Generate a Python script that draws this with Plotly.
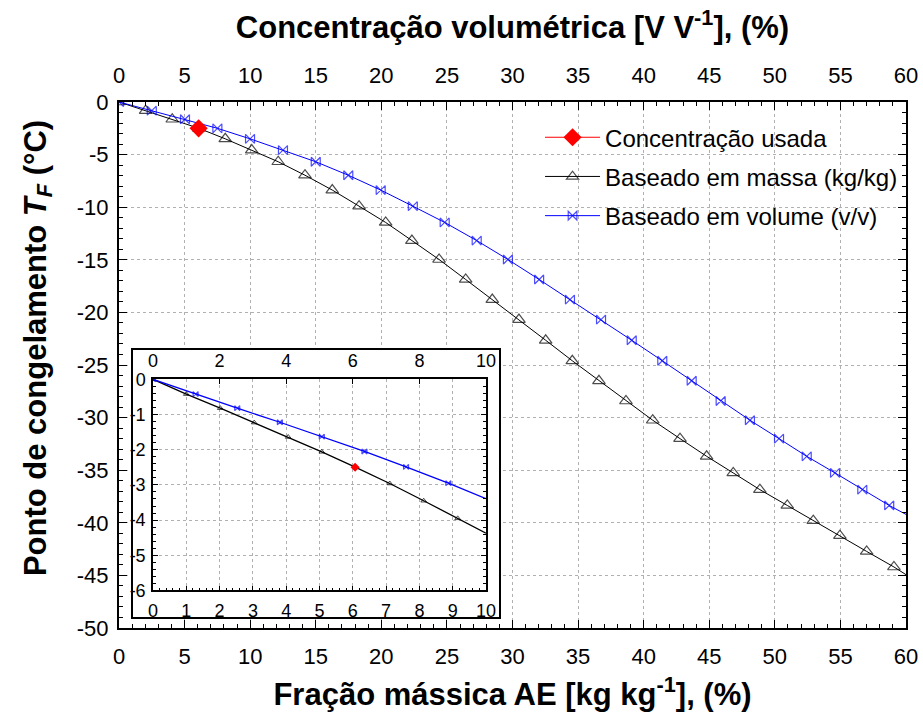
import plotly.graph_objects as go

# ---- data: freezing point of the AE/water mixture ----
# mass-based curve (mass fraction %, freezing point degC); last pair is where the curve leaves the frame
mass_pct = [0, 2.03, 4.06, 6.09, 8.1, 10.12, 12.14, 14.18, 16.26, 18.3, 20.33, 22.33, 24.4,
            26.43, 28.46, 30.49, 32.53, 34.56, 36.59, 38.65, 40.69, 42.77, 44.8, 46.83,
            48.86, 50.95, 52.93, 54.96, 57.0, 59.08, 60.0]
mass_tf = [0, -0.82, -1.64, -2.5, -3.5, -4.57, -5.68, -6.96, -8.37, -9.9, -11.45, -13.17, -14.97,
           -16.87, -18.78, -20.68, -22.65, -24.6, -26.5, -28.42, -30.25, -32.0, -33.68, -35.26,
           -36.85, -38.35, -39.8, -41.22, -42.72, -44.2, -44.93]

# volume-based curve (volume fraction %, freezing point degC)
vol_pct = [0, 2.5, 5.03, 7.5, 9.99, 12.5, 15.0, 17.48, 19.95, 22.4, 24.83, 27.27, 29.65,
           32.03, 34.38, 36.75, 39.09, 41.42, 43.66, 45.87, 48.1, 50.32, 52.43, 54.59,
           56.67, 58.72, 60.0]
vol_tf = [0, -0.82, -1.64, -2.5, -3.5, -4.57, -5.68, -6.96, -8.37, -9.9, -11.45, -13.17, -14.97,
          -16.87, -18.78, -20.68, -22.65, -24.6, -26.5, -28.42, -30.25, -32.0, -33.68, -35.26,
          -36.85, -38.35, -39.2]

# concentration actually used
used_pct = [6.07]
used_tf = [-2.5]

# zoomed detail for 0-10 %
zoom_mass_pct = [0, 1.0, 2.02, 3.04, 4.06, 5.07, 6.09, 7.11, 8.13, 9.15, 10.0]
zoom_mass_tf = [0, -0.42, -0.82, -1.23, -1.64, -2.06, -2.5, -2.96, -3.45, -3.95, -4.37]
zoom_vol_pct = [0, 1.28, 2.53, 3.81, 5.07, 6.35, 7.6, 8.87, 10.0]
zoom_vol_tf = [0, -0.42, -0.82, -1.22, -1.63, -2.05, -2.49, -2.95, -3.39]

# tick labels
main_x_ticks = list(range(0, 61, 5))
main_y_ticks = list(range(-50, 1, 5))
zoom_x_ticks = list(range(0, 11, 1))
zoom_x_top_ticks = list(range(0, 11, 2))
zoom_y_ticks = list(range(-6, 1, 1))

FONT = "Liberation Sans, Arial, sans-serif"
GRID = "#b0b0b0"


def marker_sizes(n, size):
    # the final point only closes the line at the frame edge, so it gets no marker
    return [size] * (n - 1) + [0]


def placeholder(xaxis, yaxis):
    # empty trace so that a data-less axis pair still gets its subplot drawn
    return go.Scatter(x=[], y=[], xaxis=xaxis, yaxis=yaxis, showlegend=False, hoverinfo="skip")


fig = go.Figure()

# main curves
fig.add_trace(go.Scatter(
    x=mass_pct, y=mass_tf, mode="lines+markers", name="Baseado em massa (kg/kg)",
    legendrank=2, legendgroup="m",
    line=dict(color="black", width=1),
    marker=dict(symbol="triangle-up-open", size=marker_sizes(len(mass_pct), 11),
                color="black", line=dict(width=1.2)),
    xaxis="x", yaxis="y"))
fig.add_trace(go.Scatter(
    x=vol_pct, y=vol_tf, mode="lines+markers", name="Baseado em volume (v/v)",
    legendrank=3, legendgroup="v",
    line=dict(color="#0000ff", width=1),
    marker=dict(symbol="bowtie-open", size=marker_sizes(len(vol_pct), 9),
                color="#0000ff", line=dict(width=1.2)),
    xaxis="x", yaxis="y"))
fig.add_trace(go.Scatter(
    x=used_pct, y=used_tf, mode="lines+markers", name="Concentração usada",
    legendrank=1, legendgroup="u",
    line=dict(color="#ff0000", width=1),
    marker=dict(symbol="diamond", size=14, color="#ff0000"),
    xaxis="x", yaxis="y"))

# secondary (top) axis of the main plot
fig.add_trace(placeholder("x2", "y"))
# white framed panel that holds the inset
fig.add_trace(placeholder("x3", "y3"))

# inset curves
fig.add_trace(go.Scatter(
    x=zoom_mass_pct, y=zoom_mass_tf, mode="lines+markers", showlegend=False,
    line=dict(color="black", width=1.3),
    marker=dict(symbol="triangle-up-open", size=marker_sizes(len(zoom_mass_pct), 5),
                color="black", line=dict(width=1)),
    xaxis="x4", yaxis="y4"))
fig.add_trace(go.Scatter(
    x=zoom_vol_pct, y=zoom_vol_tf, mode="lines+markers", showlegend=False,
    line=dict(color="#0000ff", width=1.3),
    marker=dict(symbol="bowtie-open", size=marker_sizes(len(zoom_vol_pct), 5),
                color="#0000ff", line=dict(width=1.2)),
    xaxis="x4", yaxis="y4"))
fig.add_trace(go.Scatter(
    x=used_pct, y=used_tf, mode="markers", showlegend=False,
    marker=dict(symbol="diamond", size=7, color="#ff0000"),
    xaxis="x4", yaxis="y4"))
fig.add_trace(placeholder("x5", "y4"))

tick_font = dict(family=FONT, size=22, color="black")
small_font = dict(family=FONT, size=18, color="black")
title_font = dict(family=FONT, size=31, color="black", weight="bold")
axis_common = dict(showline=True, linecolor="black", linewidth=2, zeroline=False,
                   ticks="inside", ticklen=8, tickwidth=1, tickcolor="black",
                   automargin=False, tickfont=tick_font)
inset_common = dict(showline=True, linecolor="black", linewidth=1.5, zeroline=False,
                    ticks="inside", ticklen=5, tickwidth=1, tickcolor="black",
                    automargin=False, tickfont=small_font)
panel_common = dict(range=[0, 1], showline=True, mirror=True, linecolor="black", linewidth=2,
                    showticklabels=False, ticks="", showgrid=False, zeroline=False,
                    fixedrange=True, automargin=False)
main_minor = dict(ticks="inside", dtick=1, tick0=0, ticklen=4, tickcolor="black", showgrid=False)
inset_minor = dict(ticks="inside", dtick=0.2, tick0=0, ticklen=3, tickcolor="black", showgrid=False)

fig.update_layout(
    template="none",
    width=923, height=724,
    margin=dict(l=119, r=17, t=102, b=96),
    paper_bgcolor="white", plot_bgcolor="white",
    font=dict(family=FONT, color="black"),
    xaxis=dict(
        **axis_common, range=[0, 60], domain=[0, 1], anchor="y", side="bottom",
        tickvals=main_x_ticks, ticktext=[str(v) for v in main_x_ticks],
        minor=main_minor,
        showgrid=True, gridcolor=GRID, griddash="dot", gridwidth=1,
        ticklabelstandoff=8,
        title=dict(text="Fração mássica AE [kg kg<sup>-1</sup>], (%)", font=title_font, standoff=15),
    ),
    xaxis2=dict(
        **axis_common, range=[0, 60], overlaying="x", anchor="y", side="top",
        tickvals=main_x_ticks, ticktext=[str(v) for v in main_x_ticks],
        minor=main_minor, showgrid=False, ticklabelstandoff=8,
        title=dict(text="Concentração volumétrica [V V<sup>-1</sup>], (%)", font=title_font, standoff=15),
    ),
    yaxis=dict(
        **axis_common, range=[-50, 0], domain=[0, 1], anchor="x", mirror="ticks",
        tickvals=main_y_ticks, ticktext=[str(v) for v in main_y_ticks],
        minor=main_minor,
        showgrid=True, gridcolor=GRID, griddash="dot", gridwidth=1,
        ticklabelstandoff=4,
    ),
    xaxis3=dict(**panel_common, domain=[0.0178, 0.4828], anchor="y3"),
    yaxis3=dict(**panel_common, domain=[0.0209, 0.5285], anchor="x3"),
    xaxis4=dict(
        **inset_common, range=[0, 10], domain=[0.0432, 0.4663], anchor="y4", side="bottom",
        tickvals=zoom_x_ticks, ticktext=[str(v) for v in zoom_x_ticks],
        minor=inset_minor,
        showgrid=True, gridcolor=GRID, griddash="dot", gridwidth=1, ticklabelstandoff=3,
    ),
    xaxis5=dict(
        **inset_common, range=[0, 10], overlaying="x4", anchor="y4", side="top",
        tickvals=zoom_x_top_ticks, ticktext=[str(v) for v in zoom_x_top_ticks],
        showgrid=False, ticklabelstandoff=3,
    ),
    yaxis4=dict(
        **inset_common, range=[-6, 0], domain=[0.0713, 0.4728], anchor="x4", mirror="ticks",
        tickvals=zoom_y_ticks, ticktext=[str(v) for v in zoom_y_ticks],
        minor=inset_minor,
        showgrid=True, gridcolor=GRID, griddash="dot", gridwidth=1, ticklabelstandoff=2,
    ),
    legend=dict(
        x=0.535, y=0.975, xanchor="left", yanchor="top",
        bgcolor="rgba(0,0,0,0)", borderwidth=0,
        font=dict(family=FONT, size=24, color="black"),
        itemwidth=55, tracegroupgap=5, traceorder="grouped",
    ),
    annotations=[dict(
        text="Ponto de congelamento <i>T<sub>F</sub></i> (°C)",
        xref="paper", yref="paper", x=-0.103, y=0.532, xanchor="center", yanchor="middle",
        textangle=-90, showarrow=False, font=title_font,
    )],
)

fig.write_html("out.html")
